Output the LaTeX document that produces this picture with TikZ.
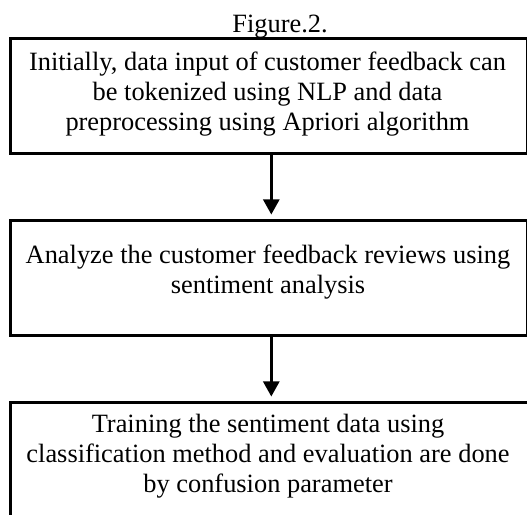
\documentclass[tikz,border=0pt]{standalone}
\usepackage{fontspec}
\setmainfont{Liberation Serif}
\usetikzlibrary{arrows.meta}
\tikzset{
  x=1pt,y=1pt,
  boxframe/.style={draw=black,line width=2.6pt,minimum width=#1,minimum height=115pt,inner sep=0pt,anchor=north west},
  boxtext/.style={align=center,inner sep=0pt,font=\fontsize{26.4}{30}\selectfont},
  arr/.style={line width=2.6pt,-{Triangle[length=15pt,width=16pt]},shorten >=4.5pt}
}
\begin{document}
\begin{tikzpicture}
\useasboundingbox (0,0) rectangle (527,514);
\clip (0,0) rectangle (527,514);
\node[boxtext,anchor=base] (cap) at (280,481) {Figure.2.};
\node[boxframe=517pt] (b1) at (9,477) {};
\node[boxframe=517pt] (b2) at (9,295) {};
\node[boxframe=525pt] (b3) at (9,113) {};
\node[boxtext] (t1) at (267.5,420) {Initially, data input of customer feedback can\\be tokenized using NLP and data\\preprocessing using Apriori algorithm};
\node[boxtext] (t2) at (268,242) {Analyze the customer feedback reviews using\\sentiment analysis};
\node[boxtext] (t3) at (268,58) {Training the sentiment data using\\classification method and evaluation are done\\by confusion parameter};
\draw[arr] ([xshift=2.5pt]b1.south) -- ([xshift=2.5pt]b2.north);
\draw[arr] ([xshift=2.5pt]b2.south) -- ([xshift=-1.5pt]b3.north);
\end{tikzpicture}
\end{document}
